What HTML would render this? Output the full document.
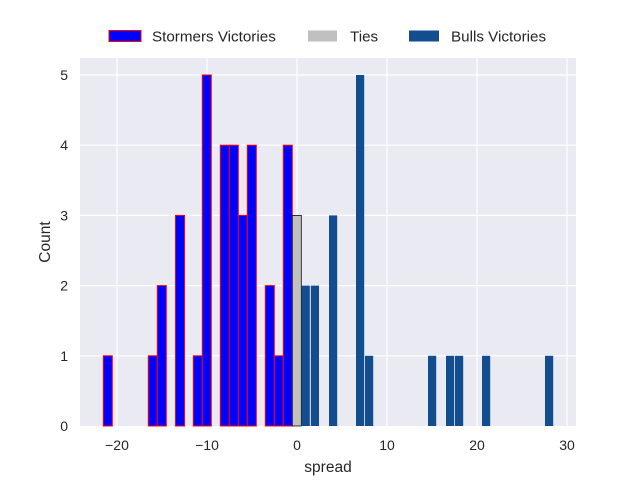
<!DOCTYPE html>
<html><head><meta charset="utf-8"><style>html,body{margin:0;padding:0;background:#fff}svg{display:block}text{font-family:"Liberation Sans",sans-serif;fill:#262626}</style></head>
<body>
<svg width="640" height="480" viewBox="0 0 640 480" xmlns="http://www.w3.org/2000/svg">
<rect x="80" y="58" width="496" height="368" fill="#eaeaf2"/>
<g stroke="#fff" stroke-width="1.2">
<line x1="117" y1="58" x2="117" y2="426"/><line x1="207" y1="58" x2="207" y2="426"/><line x1="297" y1="58" x2="297" y2="426"/><line x1="387" y1="58" x2="387" y2="426"/><line x1="477" y1="58" x2="477" y2="426"/><line x1="567" y1="58" x2="567" y2="426"/>
<line x1="80" y1="75" x2="576" y2="75"/><line x1="80" y1="145.2" x2="576" y2="145.2"/><line x1="80" y1="215.4" x2="576" y2="215.4"/><line x1="80" y1="285.6" x2="576" y2="285.6"/><line x1="80" y1="355.8" x2="576" y2="355.8"/>
</g>
<g fill="#0000ff" stroke="#ff0000" stroke-width="1">
<rect x="103.3" y="355.8" width="9" height="70.2"/>
<rect x="148.3" y="355.8" width="9" height="70.2"/>
<rect x="157.3" y="285.6" width="9" height="140.4"/>
<rect x="175.5" y="215.4" width="9" height="210.6"/>
<rect x="193.3" y="355.8" width="9" height="70.2"/>
<rect x="202.3" y="75" width="9" height="351"/>
<rect x="220.3" y="145.2" width="9" height="280.8"/>
<rect x="229.3" y="145.2" width="9" height="280.8"/>
<rect x="238.3" y="215.4" width="9" height="210.6"/>
<rect x="247.3" y="145.2" width="9" height="280.8"/>
<rect x="265.3" y="285.6" width="9" height="140.4"/>
<rect x="274.3" y="355.8" width="9" height="70.2"/>
<rect x="283.3" y="145.2" width="9" height="280.8"/>
</g>
<rect x="292.3" y="215.4" width="9" height="210.6" fill="#c0c0c0" stroke="#111" stroke-width="0.8"/>
<g fill="#114d8f">
<rect x="301.6" y="285.6" width="8.2" height="140.4"/>
<rect x="310.8" y="285.6" width="8.2" height="140.4"/>
<rect x="329" y="215.4" width="8.2" height="210.6"/>
<rect x="356" y="75" width="8.2" height="351"/>
<rect x="365" y="355.8" width="8.2" height="70.2"/>
<rect x="428" y="355.8" width="8.2" height="70.2"/>
<rect x="446" y="355.8" width="8.2" height="70.2"/>
<rect x="455" y="355.8" width="8.2" height="70.2"/>
<rect x="482" y="355.8" width="8.2" height="70.2"/>
<rect x="545" y="355.8" width="8.2" height="70.2"/>
</g>
<g font-size="14" text-anchor="middle">
<text x="117" y="450">−20</text><text x="207" y="450">−10</text><text x="297" y="450">0</text><text x="387" y="450">10</text><text x="477" y="450">20</text><text x="567" y="450">30</text>
</g>
<g font-size="14" text-anchor="end">
<text x="68" y="431">0</text><text x="68" y="360.8">1</text><text x="68" y="290.6">2</text><text x="68" y="220.4">3</text><text x="68" y="150.2">4</text><text x="68" y="80">5</text>
</g>
<text x="328" y="472" font-size="15.5" text-anchor="middle">spread</text>
<text transform="translate(50,242) rotate(-90)" font-size="15.5" text-anchor="middle">Count</text>
<rect x="109" y="30.5" width="32" height="11" fill="#0000ff" stroke="#ff0000" stroke-width="1"/>
<rect x="308" y="30.5" width="29" height="11" fill="#c0c0c0"/>
<rect x="409" y="30.5" width="30" height="11" fill="#114d8f"/>
<g font-size="15.2">
<text x="152" y="41.5">Stormers Victories</text><text x="350" y="41.5">Ties</text><text x="451" y="41.5">Bulls Victories</text>
</g>
</svg>
</body></html>
